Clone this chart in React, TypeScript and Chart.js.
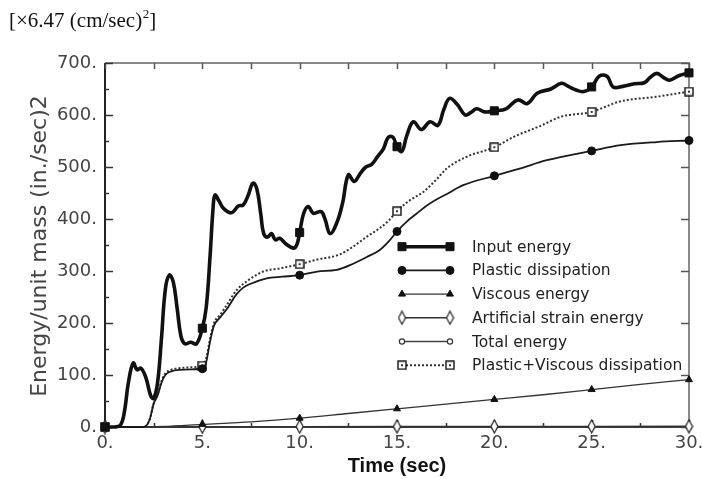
import React, { useEffect, useRef } from "react";
import { Chart, registerables } from "chart.js";
import { drawPoint } from "chart.js/helpers";

Chart.register(...registerables);

// ---------- data ----------
const xTickValues = [0, 5, 10, 15, 20, 25, 30];
const yTickValues = [0, 100, 200, 300, 400, 500, 600, 700];
const markerTimes = [0, 5, 10, 15, 20, 25, 30];

const seriesNames = [
  "Input energy",
  "Plastic dissipation",
  "Viscous energy",
  "Artificial strain energy",
  "Total energy",
  "Plastic+Viscous dissipation",
];

const inputT = [0, 0.5, 0.8, 1.0, 1.2, 1.45, 1.65, 1.85, 2.1, 2.35, 2.5, 2.7, 2.9, 3.1, 3.3, 3.5, 3.7, 3.9, 4.1, 4.4, 4.7, 5.0, 5.2, 5.4, 5.55, 5.65, 5.85, 6.1, 6.5, 6.85, 7.1, 7.35, 7.6, 7.8, 8.0, 8.15, 8.35, 8.55, 8.75, 8.97, 9.3, 9.67, 9.85, 10.0, 10.2, 10.44, 10.7, 11.1, 11.3, 11.56, 11.9, 12.2, 12.5, 12.8, 13.1, 13.4, 13.7, 14.0, 14.3, 14.55, 14.8, 15.0, 15.25, 15.5, 15.84, 16.25, 16.7, 17.1, 17.4, 17.7, 18.1, 18.5, 18.8, 19.1, 19.5, 20.0, 20.6, 21.2, 21.7, 22.2, 22.9, 23.45, 23.8, 24.2, 24.6, 25.0, 25.4, 25.8, 26.1, 26.6, 27.2, 27.7, 28.0, 28.35, 28.7, 29.0, 29.5, 30.0];
const inputE = [0, 0, 4, 30, 85, 123, 110, 113, 95, 60, 55, 85, 170, 265, 292, 280, 230, 175, 160, 163, 160, 190, 230, 330, 420, 446, 435, 420, 412, 425, 427, 445, 469, 458, 410, 372, 365, 372, 360, 363, 352, 344, 350, 374, 410, 424, 411, 414, 400, 372, 392, 430, 485, 472, 487, 500, 505, 520, 535, 557, 557, 539, 530, 560, 587, 572, 587, 580, 610, 632, 620, 600, 605, 612, 606, 608, 612, 629, 622, 642, 650, 661, 655, 648, 645, 654, 675, 674, 654, 655, 660, 662, 672, 680, 672, 667, 676, 681];

const plasticT = [0, 2.0, 2.3, 2.5, 2.7, 2.9, 3.1, 3.4, 3.8, 4.5, 5.0, 5.2, 5.4, 5.6, 5.9, 6.3, 6.75, 7.1, 7.45, 8.3, 9.1, 10.0, 10.9, 11.9, 12.75, 13.45, 14.1, 14.6, 15.0, 15.5, 16.0, 16.5, 17.0, 17.46, 18.4, 20.0, 21.3, 22.7, 25.0, 26.5, 28.35, 30.0];
const plasticE = [0, 0, 15, 45, 60, 85, 100, 107, 110, 111, 112, 125, 165, 195, 210, 229, 255, 268, 275, 286, 289, 292, 299, 302, 314, 327, 340, 358, 376, 395, 410, 425, 437, 446, 465, 483, 497, 513, 531, 542, 548, 551];

const viscousT = [0, 2, 3, 5, 7.5, 10, 12.5, 15, 17.5, 20, 22.5, 25, 27.5, 30];
const viscousE = [0, 0.3, 1, 5, 10, 17, 26, 35, 44, 53, 62, 72, 82, 91];

const artificialT = [0, 5, 10, 15, 20, 25, 30];
const artificialE = [0, 0.5, 0.8, 1, 1.1, 1.2, 1.3];

const totalT = [0, 5, 10, 15, 20, 25, 30];
const totalE = [0, 0, 0, 0, 0, 0, 0];

const pvT = [0, 2.0, 2.3, 2.5, 2.7, 2.9, 3.1, 3.4, 3.8, 4.5, 5.0, 5.2, 5.4, 5.6, 5.9, 6.16, 6.76, 7.35, 8.13, 8.97, 10.0, 10.9, 12.0, 12.75, 13.45, 14.1, 14.6, 15.0, 15.66, 16.35, 17.0, 17.55, 18.6, 20.0, 21.0, 22.3, 23.45, 25.0, 26.45, 28.3, 30.0];
const pvE = [0, 0, 15, 45, 62, 88, 103, 110, 113, 115, 118, 132, 170, 200, 215, 229, 263, 282, 299, 305, 313, 322, 331, 347, 366, 382, 398, 415, 436, 452, 475, 497, 520, 538, 558, 578, 597, 606, 626, 635, 645];

// ---------- helpers ----------
function pts(t: number[], v: number[]) {
  return t.map((x, i) => ({ x, y: v[i] }));
}

function makeOpenSquare(): HTMLCanvasElement {
  const c = document.createElement("canvas");
  c.width = 10;
  c.height = 10;
  const g = c.getContext("2d")!;
  g.fillStyle = "#fff";
  g.fillRect(1, 1, 8, 8);
  g.strokeStyle = "#111";
  g.lineWidth = 1.4;
  g.strokeRect(1, 1, 8, 8);
  g.fillStyle = "#333";
  g.fillRect(4, 4, 2, 2);
  return c;
}

function makeDiamond(): HTMLCanvasElement {
  const c = document.createElement("canvas");
  c.width = 9;
  c.height = 15;
  const g = c.getContext("2d")!;
  g.beginPath();
  g.moveTo(4.5, 1);
  g.lineTo(8, 7.5);
  g.lineTo(4.5, 14);
  g.lineTo(1, 7.5);
  g.closePath();
  g.fillStyle = "#fff";
  g.fill();
  g.strokeStyle = "#222";
  g.lineWidth = 1.2;
  g.stroke();
  return c;
}

const markerR = (r: number) => (ctx: any) => {
  const raw = ctx.raw as { x: number } | undefined;
  return raw && markerTimes.includes(raw.x) ? r : 0;
};

const decorPlugin = {
  id: "decor",
  beforeDatasetsDraw(chart: any) {
    const { ctx, chartArea } = chart;
    const { left, right, top, bottom } = chartArea;
    const xs = chart.scales.x;
    const ys = chart.scales.y;
    ctx.save();
    ctx.strokeStyle = "#8a8a8a";
    ctx.lineWidth = 2;
    ctx.beginPath();
    ctx.moveTo(left, top);
    ctx.lineTo(right, top);
    ctx.lineTo(right, bottom);
    ctx.stroke();
    ctx.strokeStyle = "#222";
    ctx.lineWidth = 2;
    ctx.beginPath();
    ctx.moveTo(left, top);
    ctx.lineTo(left, bottom);
    ctx.lineTo(right, bottom);
    ctx.stroke();
    ctx.lineWidth = 1.5;
    for (let t = 0; t <= 30.001; t += 2.5) {
      const px = Math.round(xs.getPixelForValue(t)) + 0.5;
      const major = Math.abs(t % 5) < 1e-6;
      ctx.strokeStyle = "#333";
      ctx.beginPath();
      ctx.moveTo(px, bottom);
      ctx.lineTo(px, bottom - (major ? 7 : 4));
      ctx.stroke();
      ctx.strokeStyle = "#555";
      ctx.beginPath();
      ctx.moveTo(px, top);
      ctx.lineTo(px, top + 6);
      ctx.stroke();
    }
    for (let v = 0; v <= 700; v += 50) {
      const py = Math.round(ys.getPixelForValue(v)) + 0.5;
      const major = v % 100 === 0;
      ctx.strokeStyle = "#333";
      ctx.beginPath();
      ctx.moveTo(left, py);
      ctx.lineTo(left + (major ? 8 : 4), py);
      ctx.stroke();
      if (major) {
        ctx.strokeStyle = "#555";
        ctx.beginPath();
        ctx.moveTo(right, py);
        ctx.lineTo(right - 8, py);
        ctx.stroke();
      }
    }
    ctx.restore();
  },
  afterDraw(chart: any) {
    const { ctx } = chart;
    ctx.save();
    const x0 = 402;
    const x1 = 450;
    const y0 = 246.7;
    const dy = 23.7;
    chart.data.datasets.forEach((ds: any, i: number) => {
      const y = y0 + i * dy;
      ctx.save();
      ctx.strokeStyle = ds.borderColor;
      ctx.lineWidth = ds.borderWidth;
      ctx.setLineDash(ds.borderDash || []);
      ctx.beginPath();
      ctx.moveTo(x0, y);
      ctx.lineTo(x1, y);
      ctx.stroke();
      ctx.restore();
      const opts = {
        pointStyle: ds.pointStyle,
        rotation: 0,
        radius: ds.legendRadius,
        borderWidth: ds.pointBorderWidth ?? 1,
      };
      [x0, x1].forEach((px) => {
        ctx.save();
        ctx.fillStyle = ds.pointBackgroundColor;
        ctx.strokeStyle = ds.pointBorderColor;
        ctx.lineWidth = opts.borderWidth;
        drawPoint(ctx, opts as any, px, y);
        ctx.restore();
      });
      ctx.fillStyle = "#222";
      ctx.font = "15.5px 'DejaVu Sans'";
      ctx.textAlign = "left";
      ctx.textBaseline = "middle";
      ctx.fillText(seriesNames[i], 472, y + 1);
    });

    ctx.fillStyle = "#444";
    ctx.font = "22px 'DejaVu Sans'";
    ctx.textAlign = "center";
    ctx.textBaseline = "middle";
    ctx.save();
    ctx.translate(40, 246);
    ctx.rotate(-Math.PI / 2);
    ctx.fillText("Energy/unit mass (in./sec)2", 0, 0);
    ctx.restore();

    ctx.fillStyle = "#111";
    ctx.font = "bold 20px 'Liberation Sans'";
    ctx.textAlign = "center";
    ctx.textBaseline = "alphabetic";
    ctx.fillText("Time (sec)", 397, 472);

    ctx.fillStyle = "#111";
    ctx.textAlign = "left";
    ctx.font = "21px 'Liberation Serif'";
    let ax = 9;
    const base = 27;
    const part1 = "[\u00d76.47 (cm/sec)";
    ctx.fillText(part1, ax, base);
    ax += ctx.measureText(part1).width;
    ctx.font = "13px 'Liberation Serif'";
    ctx.fillText("2", ax + 0.5, base - 9);
    ax += ctx.measureText("2").width + 0.5;
    ctx.font = "21px 'Liberation Serif'";
    ctx.fillText("]", ax, base);
    ctx.restore();
  },
};

export default function App() {
  const ref = useRef<HTMLCanvasElement | null>(null);

  useEffect(() => {
    if (!ref.current) return;
    const openSquare = makeOpenSquare();
    const diamond = makeDiamond();
    const datasets: any[] = [
      {
        label: seriesNames[0],
        data: pts(inputT, inputE),
        borderColor: "#111",
        borderWidth: 3.6,
        tension: 0.4,
        pointStyle: "rect",
        pointRadius: markerR(5.7),
        legendRadius: 5.7,
        pointBackgroundColor: "#111",
        pointBorderColor: "#111",
        pointBorderWidth: 1,
      },
      {
        label: seriesNames[1],
        data: pts(plasticT, plasticE),
        borderColor: "#1a1a1a",
        borderWidth: 1.8,
        cubicInterpolationMode: "monotone",
        pointStyle: "circle",
        pointRadius: markerR(4),
        legendRadius: 4,
        pointBackgroundColor: "#111",
        pointBorderColor: "#111",
        pointBorderWidth: 1,
      },
      {
        label: seriesNames[2],
        data: pts(viscousT, viscousE),
        borderColor: "#333",
        borderWidth: 1.3,
        cubicInterpolationMode: "monotone",
        pointStyle: "triangle",
        pointRadius: markerR(4),
        legendRadius: 4,
        pointBackgroundColor: "#111",
        pointBorderColor: "#111",
        pointBorderWidth: 1,
      },
      {
        label: seriesNames[3],
        data: pts(artificialT, artificialE),
        borderColor: "#333",
        borderWidth: 1.4,
        pointStyle: diamond,
        pointRadius: markerR(5),
        legendRadius: 5,
        pointBackgroundColor: "#fff",
        pointBorderColor: "#222",
        pointBorderWidth: 1,
      },
      {
        label: seriesNames[4],
        data: pts(totalT, totalE),
        borderColor: "#444",
        borderWidth: 1.4,
        pointStyle: "circle",
        pointRadius: markerR(2.6),
        legendRadius: 2.6,
        pointBackgroundColor: "#fff",
        pointBorderColor: "#333",
        pointBorderWidth: 1.2,
      },
      {
        label: seriesNames[5],
        data: pts(pvT, pvE),
        borderColor: "#333",
        borderWidth: 2,
        borderDash: [2, 2],
        cubicInterpolationMode: "monotone",
        pointStyle: openSquare,
        pointRadius: markerR(5),
        legendRadius: 5,
        pointBackgroundColor: "#fff",
        pointBorderColor: "#111",
        pointBorderWidth: 1.4,
      },
    ];
    datasets.forEach((d) => {
      d.clip = false;
      d.fill = false;
      d.pointHoverRadius = 0;
    });

    const chart = new Chart(ref.current, {
      type: "line",
      data: { datasets },
      options: {
        responsive: false,
        animation: false,
        events: [],
        layout: { padding: { left: 0, top: 63, right: 13, bottom: 0 } },
        plugins: { legend: { display: false }, tooltip: { enabled: false } },
        scales: {
          x: {
            type: "linear",
            min: 0,
            max: 30,
            afterBuildTicks: (s: any) => {
              s.ticks = xTickValues.map((v) => ({ value: v }));
            },
            afterFit: (s: any) => {
              s.height = 52;
              s.paddingLeft = 0;
              s.paddingRight = 0;
            },
            grid: { display: false, drawTicks: false },
            border: { display: false },
            ticks: {
              autoSkip: false,
              maxRotation: 0,
              padding: 6,
              color: "#444",
              font: { family: "'DejaVu Sans'", size: 18 },
              callback: (v: any) => `${v}.`,
            },
          },
          y: {
            type: "linear",
            min: 0,
            max: 700,
            afterBuildTicks: (s: any) => {
              s.ticks = yTickValues.map((v) => ({ value: v }));
            },
            afterFit: (s: any) => {
              s.width = 105;
              s.paddingTop = 0;
              s.paddingBottom = 0;
            },
            grid: { display: false, drawTicks: false },
            border: { display: false },
            ticks: {
              padding: 8,
              color: "#444",
              font: { family: "'DejaVu Sans'", size: 18 },
              callback: (v: any) => `${v}.`,
            },
          },
        },
      },
      plugins: [decorPlugin],
    });
    return () => chart.destroy();
  }, []);

  return (
    <div style={{ position: "fixed", left: 0, top: 0, width: 702, height: 479, background: "#fff" }}>
      <canvas ref={ref} width={702} height={479} style={{ width: 702, height: 479, display: "block" }} />
    </div>
  );
}
